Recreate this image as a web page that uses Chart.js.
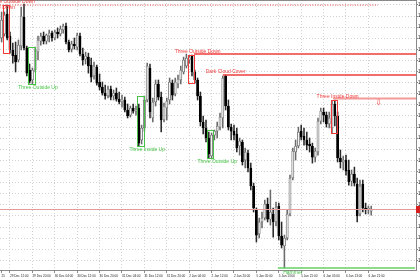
<!DOCTYPE html>
<html><head><meta charset="utf-8">
<script src="https://cdn.jsdelivr.net/npm/chart.js@4.4.1/dist/chart.umd.min.js"></script>
<style>html,body{margin:0;padding:0;background:#fff;overflow:hidden}#wrap{width:420px;height:280px}</style>
</head><body><div id="wrap"><canvas id="c" width="420" height="280"></canvas></div>
<script>
// ---- candle data (H1 bars) ----
const barOpen = [1.17851,1.17869,1.17959,1.17860,1.17797,1.17774,1.17752,1.17815,1.17945,1.17806,
1.17707,1.17662,1.17707,1.17788,1.17837,1.17860,1.17837,1.17860,1.17873,1.17851,
1.17878,1.17869,1.17887,1.17905,1.17833,1.17801,1.17824,1.17810,1.17860,1.17779,
1.17756,1.17765,1.17729,1.17680,1.17720,1.17653,1.17630,1.17603,1.17590,1.17621,
1.17590,1.17603,1.17576,1.17563,1.17572,1.17527,1.17504,1.17536,1.17522,1.17536,
1.17392,1.17446,1.17572,1.17716,1.17491,1.17563,1.17644,1.17585,1.17482,1.17536,
1.17572,1.17648,1.17599,1.17644,1.17662,1.17698,1.17725,1.17752,1.17770,1.17698,
1.17662,1.17590,1.17473,1.17446,1.17401,1.17320,1.17414,1.17432,1.17450,1.17491,
1.17680,1.17545,1.17450,1.17432,1.17419,1.17365,1.17383,1.17302,1.17333,1.17266,
1.17185,1.17077,1.16969,1.17023,1.17041,1.17104,1.17036,1.17059,1.17023,1.17095,
1.16960,1.16915,1.16951,1.17059,1.17221,1.17338,1.17365,1.17432,1.17410,1.17392,
1.17374,1.17365,1.17315,1.17338,1.17477,1.17518,1.17504,1.17464,1.17446,1.17554,
1.17500,1.17311,1.17293,1.17302,1.17257,1.17207,1.17239,1.17194,1.17059,1.17194,
1.17086,1.17077,1.17072];
const barHigh = [1.17968,1.17968,1.17999,1.17878,1.17828,1.17833,1.17842,1.17990,1.18004,1.17815,
1.17734,1.17716,1.17810,1.17860,1.17873,1.17878,1.17869,1.17887,1.17882,1.17887,
1.17896,1.17905,1.17914,1.17918,1.17842,1.17837,1.17851,1.17873,1.17873,1.17806,
1.17788,1.17783,1.17761,1.17743,1.17729,1.17689,1.17653,1.17639,1.17635,1.17635,
1.17617,1.17626,1.17608,1.17594,1.17585,1.17554,1.17545,1.17554,1.17545,1.17554,
1.17459,1.17590,1.17738,1.17734,1.17581,1.17662,1.17662,1.17608,1.17558,1.17581,
1.17671,1.17662,1.17671,1.17684,1.17725,1.17765,1.17779,1.17770,1.17774,1.17707,
1.17671,1.17608,1.17500,1.17482,1.17428,1.17423,1.17437,1.17473,1.17513,1.17680,
1.17684,1.17572,1.17464,1.17459,1.17446,1.17401,1.17392,1.17356,1.17347,1.17288,
1.17198,1.17086,1.17041,1.17068,1.17122,1.17131,1.17167,1.17086,1.17113,1.17108,
1.17023,1.16964,1.17077,1.17234,1.17356,1.17392,1.17450,1.17459,1.17446,1.17428,
1.17401,1.17378,1.17356,1.17491,1.17536,1.17536,1.17518,1.17518,1.17567,1.17572,
1.17518,1.17347,1.17320,1.17324,1.17302,1.17257,1.17270,1.17221,1.17212,1.17212,
1.17108,1.17095,1.17095];
const barLow = [1.17833,1.17860,1.17842,1.17783,1.17738,1.17698,1.17743,1.17797,1.17797,1.17680,
1.17648,1.17644,1.17698,1.17752,1.17819,1.17824,1.17824,1.17833,1.17837,1.17842,
1.17851,1.17860,1.17873,1.17824,1.17788,1.17788,1.17801,1.17797,1.17770,1.17729,
1.17734,1.17693,1.17653,1.17666,1.17639,1.17617,1.17594,1.17576,1.17581,1.17572,
1.17572,1.17567,1.17554,1.17540,1.17518,1.17491,1.17495,1.17513,1.17504,1.17365,
1.17374,1.17432,1.17563,1.17491,1.17473,1.17545,1.17572,1.17428,1.17473,1.17482,
1.17554,1.17572,1.17590,1.17626,1.17644,1.17689,1.17716,1.17738,1.17680,1.17648,
1.17572,1.17455,1.17419,1.17383,1.17311,1.17311,1.17392,1.17401,1.17437,1.17446,
1.17527,1.17437,1.17392,1.17392,1.17338,1.17324,1.17279,1.17266,1.17248,1.17167,
1.17068,1.16933,1.16951,1.16996,1.17032,1.17023,1.17009,1.16955,1.17005,1.16942,
1.16906,1.16816,1.16942,1.17050,1.17212,1.17302,1.17356,1.17392,1.17369,1.17347,
1.17338,1.17288,1.17293,1.17324,1.17464,1.17473,1.17450,1.17446,1.17423,1.17455,
1.17293,1.17266,1.17257,1.17234,1.17189,1.17185,1.17185,1.17023,1.17050,1.17068,
1.17059,1.17059,1.17054];
const barClose = [1.17932,1.17954,1.17851,1.17797,1.17770,1.17743,1.17819,1.17950,1.17806,1.17693,
1.17657,1.17707,1.17797,1.17842,1.17860,1.17837,1.17864,1.17873,1.17851,1.17878,
1.17869,1.17891,1.17905,1.17833,1.17797,1.17824,1.17815,1.17864,1.17779,1.17752,
1.17770,1.17725,1.17675,1.17725,1.17648,1.17630,1.17603,1.17590,1.17621,1.17585,
1.17603,1.17576,1.17563,1.17576,1.17527,1.17500,1.17536,1.17522,1.17527,1.17378,
1.17446,1.17572,1.17725,1.17518,1.17563,1.17644,1.17585,1.17482,1.17545,1.17567,
1.17653,1.17594,1.17653,1.17666,1.17707,1.17752,1.17761,1.17765,1.17698,1.17662,
1.17590,1.17473,1.17446,1.17401,1.17329,1.17414,1.17432,1.17455,1.17495,1.17671,
1.17545,1.17450,1.17432,1.17414,1.17356,1.17387,1.17293,1.17338,1.17266,1.17185,
1.17086,1.16964,1.17023,1.17041,1.17104,1.17036,1.17068,1.17023,1.17090,1.16960,
1.16919,1.16951,1.17059,1.17221,1.17342,1.17365,1.17428,1.17405,1.17392,1.17369,
1.17365,1.17315,1.17342,1.17477,1.17522,1.17504,1.17464,1.17491,1.17554,1.17500,
1.17311,1.17293,1.17302,1.17252,1.17203,1.17239,1.17198,1.17050,1.17185,1.17086,
1.17077,1.17086,1.17081];

// ---- time axis ----
const xTickBars = [0,3,11,19,27,35,43,51,59,67,75,83,91,99,107,115,123,131];
const xTickLabels = ["25","29 Dec 12:00","29 Dec 20:00","30 Dec 04:00","30 Dec 12:00","30 Dec 20:00",
"31 Dec 04:00","31 Dec 12:00","31 Dec 20:00","2 Jan 04:00","2 Jan 12:00","2 Jan 20:00",
"5 Jan 05:00","5 Jan 13:00","5 Jan 21:00","6 Jan 05:00","6 Jan 13:00","6 Jan 21:00"];
const priceTop = 1.18022, priceBottom = 1.16807, priceStep = 0.0005;

// ---- candlestick patterns ----
const patternNames = ["Three Outside Down","Three Outside Up","Three Inside Up","Three Outside Down","Three Outside Up","Three Inside Down"];
const patternBull = [false,true,true,false,true,false];
const patternFrom = [0.5,9.4,48.4,66.6,73.4,117.6];
const patternTo = [2.8,11.9,50.9,68.7,75.5,119.8];
const patternHigh = [1.17999,1.17810,1.17590,1.17774,1.17437,1.17572];
const patternLow = [1.17783,1.17644,1.17365,1.17648,1.17311,1.17423];
const patternLabelBar = [3.7,13,52,70,77,120];

// extra text labels
const noteText = ["Three Outside Down","Dark Cloud Cover","Hammer"];
const noteBar = [-3.4,80,104];
const notePrice = [1.17972,1.17684,1.16803];
const noteBull = [false,false,true];

// ---- levels ----
const levelKind = ["dotted","bear","bear","bearSoft","bull"];
const levelPrice = [1.17999,1.17779,1.17684,1.17579,1.16816];
const levelFrom = [-0.6,68.7,79,118.4,98.7];
const levelTo = [134.4,150,150,150,147.6];
const lastPrice = 1.17081;
const arrowBar = 134.6, arrowPrice = 1.17561;

const levelStyle = {
  dotted:{color:'#e84a4a',width:1,dash:[1,1.5]},
  bear:{color:'#f03c3c',width:1.5,dash:[]},
  bearSoft:{color:'#f39a9a',width:2,dash:[]},
  bull:{color:'#66d066',width:1.5,dash:[]}
};
const RED='#f03a3a', GREEN='#46c246';

Chart.defaults.font.family = "'Liberation Sans', Arial, sans-serif";

const idx = barOpen.map((_, i) => i);
const up = i => barClose[i] >= barOpen[i];

const overlay = {
  id:'overlay',
  beforeDatasetsDraw(chart){
    const {ctx, chartArea:a} = chart;
    ctx.save();
    ctx.strokeStyle='#8a8a8a'; ctx.lineWidth=1;
    ctx.beginPath(); ctx.moveTo(a.left, a.top+0.5); ctx.lineTo(a.right, a.top+0.5); ctx.stroke();
    ctx.restore();
  },
  afterDatasetsDraw(chart){
    const {ctx, chartArea:a, scales:{x, y}} = chart;
    const X = v => x.getPixelForValue(v), Y = v => y.getPixelForValue(v);
    ctx.save();
    ctx.beginPath(); ctx.rect(a.left, a.top, a.right-a.left, a.bottom-a.top); ctx.clip();
    ctx.strokeStyle='#e39a9a'; ctx.lineWidth=1;
    ctx.beginPath(); ctx.moveTo(a.left, Math.round(Y(lastPrice))+0.5); ctx.lineTo(a.right, Math.round(Y(lastPrice))+0.5); ctx.stroke();
    levelPrice.forEach((p,k)=>{
      const s = levelStyle[levelKind[k]];
      ctx.strokeStyle=s.color; ctx.lineWidth=s.width; ctx.setLineDash(s.dash);
      ctx.beginPath(); ctx.moveTo(X(levelFrom[k]), Y(p)); ctx.lineTo(X(levelTo[k]), Y(p)); ctx.stroke();
    });
    ctx.setLineDash([]);
    patternNames.forEach((n,k)=>{
      ctx.strokeStyle = patternBull[k]?GREEN:RED; ctx.lineWidth=1;
      const x1=X(patternFrom[k]), x2=X(patternTo[k]), y1=Y(patternHigh[k]), y2=Y(patternLow[k]);
      ctx.strokeRect(Math.round(x1)+0.5, Math.round(y1)+0.5, Math.round(x2-x1), Math.round(y2-y1));
    });
    ctx.font = "5px 'Liberation Sans', Arial, sans-serif";
    ctx.textAlign='center';
    patternNames.forEach((n,k)=>{
      ctx.fillStyle = patternBull[k]?GREEN:RED;
      if (patternBull[k]) { ctx.textBaseline='top'; ctx.fillText(n, X(patternLabelBar[k]), Y(patternLow[k])+1.5); }
      else { ctx.textBaseline='bottom'; ctx.fillText(n, X(patternLabelBar[k]), Y(patternHigh[k])-0.5); }
    });
    ctx.fillStyle=RED; ctx.textBaseline='middle'; ctx.font="8px 'DejaVu Sans'";
    ctx.fillText('\u21E9', X(arrowBar), Y(arrowPrice));
    ctx.restore();
    ctx.save();
    ctx.font = "5px 'Liberation Sans', Arial, sans-serif"; ctx.textAlign='center';
    noteText.forEach((t,k)=>{
      ctx.fillStyle = noteBull[k]?GREEN:RED;
      ctx.textBaseline = noteBull[k]?'top':'bottom';
      ctx.fillText(t, X(noteBar[k]), Y(notePrice[k]) + (noteBull[k]?-1:-0.5));
    });
    const ly = Math.round(Y(lastPrice));
    ctx.fillStyle='#d82020'; ctx.fillRect(a.right, ly-3, 6, 7);
    ctx.restore();
  }
};

new Chart(document.getElementById('c'), {
  type:'bar',
  data:{datasets:[
    {data: idx.map(i=>({x:i, y:[barOpen[i], barClose[i]]})),
     backgroundColor: idx.map(i=> up(i)?'#f4f4f4':'#000000'),
     borderColor: idx.map(i=> up(i)?'#6a6a6a':'#000000'),
     borderWidth: 0.8, borderSkipped:false, barThickness:2.2, minBarLength:1, grouped:false, order:1},
    {data: idx.map(i=>({x:i, y:[barLow[i], barHigh[i]]})),
     backgroundColor: idx.map(i=> up(i)?'#6a6a6a':'#2a2a2a'),
     barThickness:0.9, grouped:false, order:2}
  ]},
  options:{
    responsive:false, animation:false, devicePixelRatio:1,
    layout:{padding:0},
    plugins:{legend:{display:false}, tooltip:{enabled:false}},
    scales:{
      x:{type:'linear', min:-0.57, max:148, offset:false,
        afterBuildTicks: s => { s.ticks = xTickBars.map(v=>({value:v})); },
        afterFit: s => { s.height = 10; s.paddingLeft = 0; s.paddingRight = 0; },
        ticks:{autoSkip:false, maxRotation:0, minRotation:0, align:'start', padding:1.5,
          font:{size:3.1}, color:'#222',
          callback: v => xTickLabels[xTickBars.indexOf(v)]},
        grid:{offset:false, color: c => c.index===0 ? 'rgba(0,0,0,0)' : '#d2d2d2', tickLength:3, tickColor:'#8a8a8a'},
        border:{display:true, color:'#8a8a8a', dash:[1,2]}
      },
      y:{type:'linear', position:'right', min:priceBottom, max:priceTop,
        afterFit: s => { s.width = 4; s.paddingTop = 0; s.paddingBottom = 0; },
        ticks:{stepSize:priceStep, includeBounds:false, padding:0, font:{size:4.5}, color:'#111',
          callback: v => v.toFixed(5)},
        grid:{color:'#d2d2d2', tickLength:2, tickColor:'#8a8a8a'},
        border:{display:true, color:'#8a8a8a', dash:[1,2]}
      }
    }
  },
  plugins:[overlay]
});
</script></body></html>
